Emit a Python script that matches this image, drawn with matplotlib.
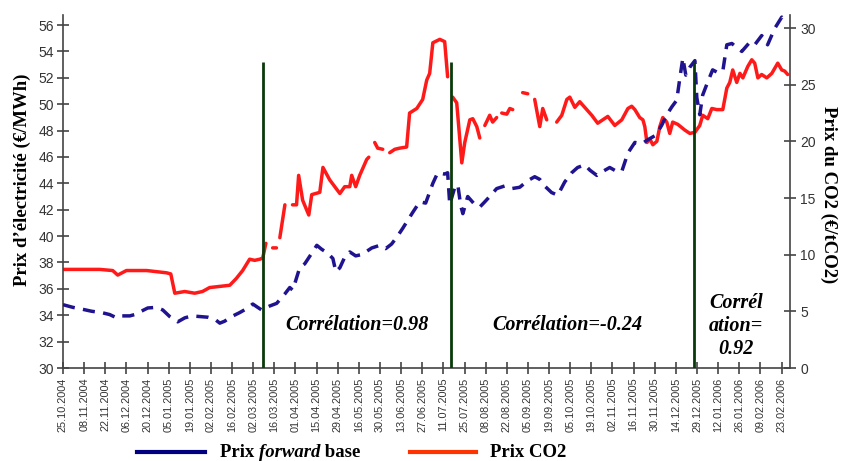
import numpy as np
import matplotlib
matplotlib.use("Agg")
import matplotlib.pyplot as plt
from matplotlib.lines import Line2D

nan = np.nan

# Tick labels: one every 10 trading days
date_labels = ["25.10.2004", "08.11.2004", "22.11.2004", "06.12.2004", "20.12.2004",
               "05.01.2005", "19.01.2005", "02.02.2005", "16.02.2005", "02.03.2005",
               "16.03.2005", "01.04.2005", "15.04.2005", "29.04.2005", "16.05.2005",
               "30.05.2005", "13.06.2005", "27.06.2005", "11.07.2005", "25.07.2005",
               "08.08.2005", "22.08.2005", "05.09.2005", "19.09.2005", "05.10.2005",
               "19.10.2005", "02.11.2005", "16.11.2005", "30.11.2005", "14.12.2005",
               "29.12.2005", "12.01.2006", "26.01.2006", "09.02.2006", "23.02.2006"]
tick_idx = list(range(0, 10 * len(date_labels), 10))

# CO2 price (EUR/tCO2), x = trading-day index
co2_idx = [0, 8, 17.4, 23.5, 25.9, 30, 39.6, 49, 51, 52.9, 57.6, 62.3, 66, 69.4, 74, 78.9,
           82, 85, 88.3, 90.7, 93.1, 94.5, 96, 97.5, 99.2, 101, 101.8, 102.6, 105, 107,
           108.6, 110.5, 111.5, 113.4, 116.3, 117.7, 121.5, 123, 126.2, 128.6, 131, 133.3,
           135.7, 136.6, 138.5, 140.4, 143.7, 144.7, 146, 147.5, 148.9, 151.3, 153,
           154.6, 157, 159.3, 162.6, 164, 167.4, 170.2, 172.1, 173.5, 175, 178.3, 180.6,
           182, 183.3, 184.4, 186.3, 188.7, 190.1, 192.5, 193.9, 195.8, 197.2, 198.4,
           199.6, 201.9, 203.3, 205.2, 206.4, 207.6, 210, 211.4, 212.8, 215, 217.5, 219.9,
           221.5, 223.2, 225.6, 227, 228.9, 231, 233.6, 236, 238.4, 239.8, 242.2, 244.5,
           246.9, 250.2, 253, 255.4, 257.8, 261.1, 264.4, 267.3, 269.1, 270.6, 272.9,
           274.4, 275.3, 276.3, 277.7, 279.1, 281, 282.4, 283.8, 285.7, 287.1, 288.5,
           290.9, 294.2, 296.6, 299, 301.3, 302.7, 305.1, 307, 309.4, 312.2, 314.1, 315.5,
           316.9, 318.8, 320.3, 321.7, 324, 325.9, 327.3, 328.8, 330.6, 333, 335.4, 338.2,
           340.1, 341.5, 342.9]
co2_val = [8.7, 8.7, 8.7, 8.6, 8.2, 8.6, 8.6, 8.4, 8.3, 6.6, 6.75, 6.6, 6.75, 7.1, 7.2, 7.3,
           7.9, 8.6, 9.6, 9.5, 9.6, 9.7, 11.0, nan, 10.6, 10.6, nan, 11.5, 14.4, nan,
           14.4, 14.4, 17.0, 14.8, 13.5, 15.3, 15.5, 17.7, 16.6, 16.0, 15.4, 16.0,
           16.0, 17.0, 16.0, 17.0, 18.4, 18.6, nan, 19.9, 19.4, 19.3, nan,
           19.0, 19.3, 19.4, 19.5, 22.5, 22.9, 23.7, 25.4, 26.0, 28.7, 29.0, 28.8,
           25.7, nan, 23.9, 23.4, 18.1, 19.9, 21.9, 22.0, 21.3, 20.3, nan,
           21.4, 22.3, 21.7, 22.1, nan, 22.5, 22.4, 22.9, 22.8, nan, 24.3, 24.2,
           nan, 23.7, 21.3, 22.9, 21.9, nan, 21.7, 22.3, 23.7, 23.9, 23.0, 23.5,
           23.0, 22.3, 21.6, 21.9, 22.2, 21.4, 21.9, 22.9, 23.1, 22.8, 22.1,
           21.9, 21.3, 19.9, 20.2, 19.7, 20.0, 21.3, 22.1, 21.7, 20.7, 21.7,
           21.5, 21.0, 20.7, 20.8, 21.4, 22.3, 22.0, 22.9, 22.8, 22.8, 24.7, 25.2,
           26.3, 25.2, 26.0, 25.6, 26.6, 27.2, 26.9, 25.6, 25.9, 25.6, 26.0, 26.9,
           26.3, 26.2, 25.9]

# Electricity forward base price (EUR/MWh)
elec_idx = [0, 4.6, 9.3, 13.6, 18.3, 22.1, 25.4, 27.8, 31.6, 33.9, 40.1, 44.3, 47.2, 50.5,
            54.3, 57.6, 60.9, 64.7, 68.5, 71.8, 74.2, 76.5, 79.8, 83.6, 86.9, 89.8, 92.1,
            94, 97.8, 101.1, 104.9, 107.3, 108.7, 112, 114.4, 117.7, 120.1, 122.4, 125.3,
            127.7, 129.1, 131, 133.3, 135.7, 138.5, 141.4, 146.1, 149.9, 152.7, 155.5,
            158.3, 160.8, 165.5, 168.8, 171.6, 175, 177.3, 180.6, 182, 183, 185.4, 186.8,
            188.2, 189.2, 191.5, 194.8, 197.2, 199.6, 201.9, 205.2, 209, 212.3, 216.1,
            219.9, 223.2, 225.6, 227.9, 231.2, 234.1, 237.4, 240.7, 243.5, 246.9, 249.3,
            252.6, 255.4, 258.7, 262, 264.4, 267.3, 270.6, 273.9, 276.7, 280.5, 283.3,
            285.7, 288.1, 290.4, 291.9, 293.3, 294.7, 296.6, 299, 299.9, 301.3, 302.7,
            305.1, 307.4, 309.8, 312.2, 314.1, 316.5, 318.8, 321.2, 325, 327.3, 330.6,
            333.4, 336.8, 340.1, 342.4]
elec_val = [34.8, 34.6, 34.45, 34.3, 34.2, 34.05, 33.8, 33.95, 33.95, 34.05, 34.55, 34.6,
            34.4, 33.9, 33.5, 33.8, 33.95, 33.9, 33.85, 33.7, 33.4, 33.55, 33.9, 34.2,
            34.5, 34.85, 34.6, 34.4, 34.7, 34.9, 35.6, 36.1, 35.9, 37.6, 37.9, 38.7,
            39.3, 39.0, 38.7, 38.3, 37.3, 37.6, 38.4, 38.8, 38.5, 38.6, 39.1, 39.3,
            39.05, 39.4, 40.0, 40.6, 41.8, 42.6, 42.5, 44.0, 44.8, 44.7, 44.8, 42.4,
            43.7, 43.9, 42.3, 41.7, 43.0, 42.4, 42.2, 42.6, 43.0, 43.6, 43.8, 43.6,
            43.7, 44.2, 44.5, 44.3, 43.8, 43.3, 43.1, 44.1, 44.8, 45.2, 45.4, 45.0,
            44.6, 44.9, 45.2, 44.9, 44.9, 46.3, 47.1, 47.0, 47.3, 47.65, 48.4, 49.2,
            49.8, 50.3, 52.0, 53.5, 52.2, 52.8, 53.3, 50.5, 49.2, 50.7, 51.7, 52.6,
            52.4, 52.5, 54.5, 54.6, 54.3, 54.0, 54.7, 54.5, 55.2, 54.5, 55.75, 56.6,
            56.2]

# Breaks between correlation periods (trading-day index) and their labels
break_idx = [94.6, 183.5, 298.6]
corr_labels = ["Corrélation=0.98", "Corrélation=-0.24", "Corrél\nation=\n0.92"]
corr_pos = [(139, 33.25), (238.5, 33.25), (318.5, 33.2)]

W, H = 849, 461
fig = plt.figure(figsize=(W / 100, H / 100), dpi=100)
ax = fig.add_axes([63 / W, 1 - 368 / H, (790 - 63) / W, (368 - 15) / H])
ax2 = ax.twinx()

blue = "#1f1390"
red = "#ff1a1a"
green = "#0a3a0a"
gray = "#444444"

ax2.plot(co2_idx, co2_val, color=red, lw=2.5, solid_capstyle="round", zorder=2)
ax.plot(elec_idx, elec_val, color=blue, lw=2.5, linestyle=(0, (3.5, 2.4)), zorder=3)
ax.vlines(break_idx, 30, 53.2, color=green, lw=2.0, zorder=4)

ax.set_zorder(ax2.get_zorder() + 1)
ax.patch.set_visible(False)

ax.set_xlim(0, 344)
ax.set_ylim(30, 56.76)
ax2.set_ylim(0, 31.15)
ax.set_yticks(range(30, 57, 2))
ax2.set_yticks(range(0, 31, 5))
ax.set_xticks(tick_idx)
ax.set_xticklabels(date_labels, rotation=90, fontsize=7.8, family="Liberation Sans",
                   color="#333333")

for a in (ax, ax2):
    a.spines["top"].set_visible(False)
    for s in a.spines.values():
        s.set_color(gray)
        s.set_linewidth(1.2)
ax.spines["right"].set_visible(False)
ax2.spines["left"].set_visible(False)
ax2.spines["bottom"].set_visible(False)

ax.tick_params(axis="y", direction="inout", length=9, width=1.2, color=gray,
               labelsize=10, labelcolor="#333333", pad=2)
ax.tick_params(axis="x", direction="inout", length=8, width=1.2, color=gray, pad=3)
ax2.tick_params(axis="y", direction="inout", length=9, width=1.2, color=gray,
                labelsize=10, labelcolor="#333333", pad=3)
for lab in ax.get_yticklabels() + ax2.get_yticklabels():
    lab.set_family("Liberation Sans")

serif = "Liberation Serif"
fig.text(22 / W, 1 - 180 / H, "Prix d’électricité (€/MWh)", rotation=90, ha="center",
         va="center", fontsize=13.5, fontweight="bold", family=serif)
fig.text(829 / W, 1 - 195 / H, "Prix du CO2 (€/tCO2)", rotation=270, ha="center",
         va="center", fontsize=13.5, fontweight="bold", family=serif)

for (cx, cy), lab in zip(corr_pos, corr_labels):
    ax.text(cx, cy, lab, ha="center", va="center", fontsize=14.5, fontweight="bold",
            style="italic", family=serif, linespacing=1.2, zorder=5)

# legend below
ly = 1 - 452 / H
fig.add_artist(Line2D([137 / W, 205 / W], [ly, ly], color="#000080", lw=3))
fig.add_artist(Line2D([410 / W, 476 / W], [ly, ly], color="#ff3300", lw=3))
r = fig.canvas.get_renderer()
t1 = fig.text(220 / W, ly, "Prix ", fontsize=13.5, fontweight="bold", family=serif, va="center")
x1 = t1.get_window_extent(r).x1
t2 = fig.text(x1 / W, ly, "forward", fontsize=13.5, fontweight="bold", style="italic",
              family=serif, va="center")
x2 = t2.get_window_extent(r).x1
fig.text(x2 / W, ly, " base", fontsize=13.5, fontweight="bold", family=serif, va="center")
fig.text(490 / W, ly, "Prix CO2", fontsize=13.5, fontweight="bold", family=serif, va="center")

fig.savefig("out.png", dpi=100)
